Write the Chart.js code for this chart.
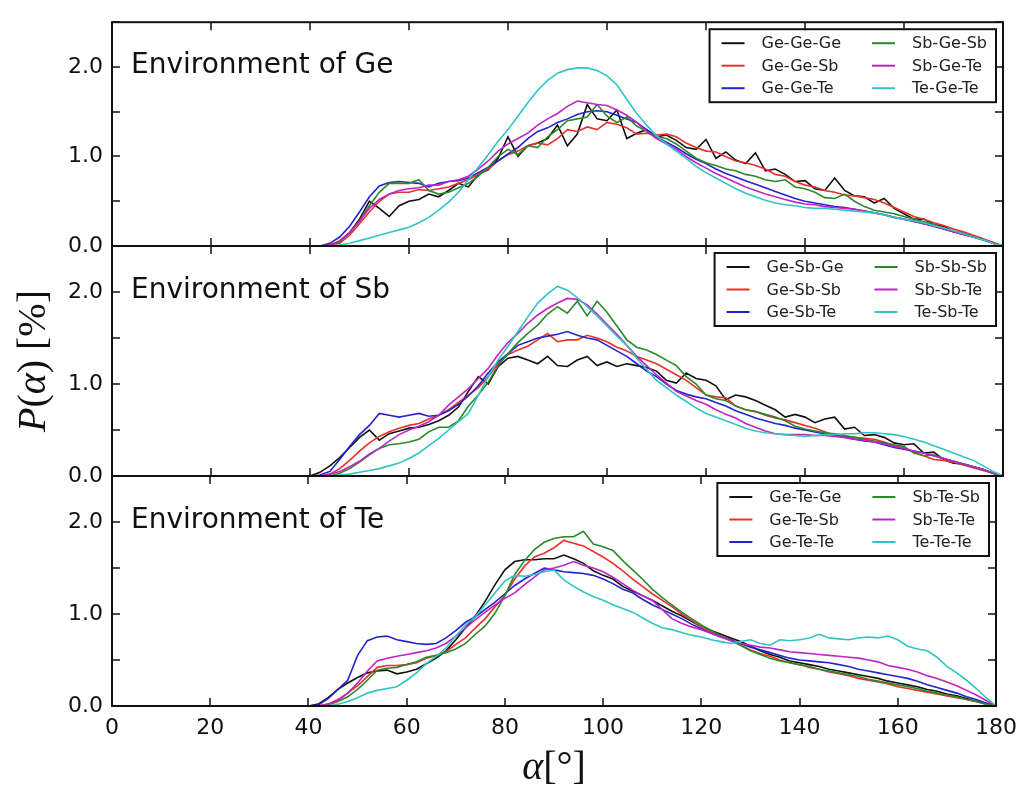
<!DOCTYPE html>
<html>
<head>
<meta charset="utf-8">
<title>Bond angle distributions</title>
<script src="https://cdn.jsdelivr.net/npm/chart.js@4.4.1/dist/chart.umd.min.js"></script>
<style>
  html, body { margin: 0; padding: 0; background: #fff; }
  #wrap { position: relative; width: 1026px; height: 790px; }
  #wrap canvas { position: absolute; left: 0; top: 0; }
</style>
</head>
<body>
<div id="wrap">
  <canvas id="geChart" width="1026" height="790"></canvas>
  <canvas id="sbChart" width="1026" height="790"></canvas>
  <canvas id="teChart" width="1026" height="790"></canvas>
</div>
<script>
// bond angle alpha in degrees (0, then 40..180 every 2)
const angles = [0,
  40, 42, 44, 46, 48, 50, 52, 54, 56, 58,
  60, 62, 64, 66, 68, 70, 72, 74, 76, 78,
  80, 82, 84, 86, 88, 90, 92, 94, 96, 98,
  100, 102, 104, 106, 108, 110, 112, 114, 116, 118,
  120, 122, 124, 126, 128, 130, 132, 134, 136, 138,
  140, 142, 144, 146, 148, 150, 152, 154, 156, 158,
  160, 162, 164, 166, 168, 170, 172, 174, 176, 178,
  180];

const xTicks = [0, 20, 40, 60, 80, 100, 120, 140, 160, 180];
const yTicks = [0, 0.5, 1.0, 1.5, 2.0, 2.5];

const lineColors = ['#111111', '#e8302c', '#2424cc', '#2a8a2a', '#c024c4', '#30c4c4'];

// ---- Environment of Ge ----
const geLabels = ['Ge-Ge-Ge', 'Ge-Ge-Sb', 'Ge-Ge-Te', 'Sb-Ge-Sb', 'Sb-Ge-Te', 'Te-Ge-Te'];
const geGeGe = [0,
  0, 0, 0.01, 0.05, 0.15, 0.30, 0.50, 0.42, 0.33, 0.45,
  0.50, 0.52, 0.58, 0.55, 0.62, 0.70, 0.66, 0.80, 0.85, 0.98,
  1.22, 1.00, 1.12, 1.15, 1.20, 1.35, 1.12, 1.25, 1.58, 1.42,
  1.40, 1.52, 1.20, 1.26, 1.30, 1.22, 1.24, 1.18, 1.10, 1.08,
  1.19, 0.98, 1.05, 0.96, 0.92, 1.04, 0.84, 0.86, 0.80, 0.72,
  0.73, 0.64, 0.62, 0.76, 0.62, 0.56, 0.55, 0.48, 0.53, 0.42,
  0.36, 0.30, 0.30, 0.24, 0.22, 0.16, 0.15, 0.10, 0.07, 0.04,
  0];
const geGeSb = [0,
  0, 0, 0, 0.03, 0.12, 0.25, 0.38, 0.50, 0.58, 0.60,
  0.60, 0.63, 0.62, 0.64, 0.66, 0.70, 0.74, 0.80, 0.86, 0.95,
  1.02, 1.06, 1.12, 1.15, 1.13, 1.20, 1.30, 1.28, 1.33, 1.30,
  1.38, 1.36, 1.32, 1.25, 1.26, 1.24, 1.25, 1.22, 1.15, 1.10,
  1.06, 1.05, 1.00, 0.95, 0.93, 0.90, 0.86, 0.80, 0.78, 0.72,
  0.68, 0.66, 0.62, 0.60, 0.57, 0.56, 0.54, 0.52, 0.48, 0.43,
  0.38, 0.33, 0.30, 0.26, 0.23, 0.19, 0.16, 0.12, 0.08, 0.04,
  0];
const geGeTe = [0,
  0, 0, 0.03, 0.10, 0.22, 0.38, 0.55, 0.67, 0.71, 0.72,
  0.71, 0.70, 0.66, 0.70, 0.72, 0.73, 0.76, 0.82, 0.88, 0.95,
  1.03, 1.10, 1.20, 1.28, 1.32, 1.38, 1.42, 1.47, 1.50, 1.51,
  1.50, 1.46, 1.42, 1.38, 1.30, 1.22, 1.16, 1.10, 1.03, 0.97,
  0.92, 0.86, 0.81, 0.77, 0.73, 0.69, 0.65, 0.61, 0.57, 0.53,
  0.50, 0.48, 0.46, 0.44, 0.43, 0.41, 0.39, 0.37, 0.35, 0.32,
  0.30, 0.28, 0.25, 0.22, 0.19, 0.16, 0.13, 0.10, 0.07, 0.03,
  0];
const sbGeSb = [0,
  0, 0, 0.01, 0.05, 0.15, 0.28, 0.45, 0.60, 0.70, 0.70,
  0.70, 0.74, 0.62, 0.58, 0.60, 0.65, 0.70, 0.78, 0.88, 1.00,
  1.08, 1.02, 1.12, 1.10, 1.22, 1.30, 1.40, 1.42, 1.44, 1.58,
  1.45, 1.38, 1.44, 1.34, 1.28, 1.22, 1.20, 1.14, 1.06, 0.98,
  0.93, 0.90, 0.86, 0.84, 0.80, 0.78, 0.74, 0.72, 0.74, 0.66,
  0.64, 0.60, 0.54, 0.53, 0.58, 0.50, 0.44, 0.40, 0.38, 0.36,
  0.33, 0.30, 0.27, 0.24, 0.20, 0.17, 0.14, 0.10, 0.07, 0.03,
  0];
const sbGeTe = [0,
  0, 0, 0.01, 0.06, 0.15, 0.28, 0.42, 0.52, 0.58, 0.62,
  0.64, 0.65, 0.68, 0.68, 0.72, 0.74, 0.78, 0.86, 0.95, 1.06,
  1.14, 1.20, 1.26, 1.35, 1.42, 1.48, 1.56, 1.62, 1.60, 1.58,
  1.57, 1.52, 1.46, 1.38, 1.28, 1.20, 1.14, 1.08, 1.00, 0.93,
  0.87, 0.81, 0.76, 0.71, 0.66, 0.62, 0.58, 0.55, 0.52, 0.49,
  0.47, 0.46, 0.44, 0.43, 0.42, 0.41, 0.39, 0.37, 0.35, 0.32,
  0.30, 0.27, 0.25, 0.22, 0.19, 0.16, 0.13, 0.10, 0.07, 0.03,
  0];
const teGeTe = [0,
  0, 0, 0, 0.01, 0.03, 0.06, 0.09, 0.12, 0.15, 0.18,
  0.21, 0.26, 0.32, 0.40, 0.49, 0.60, 0.74, 0.88, 1.02, 1.17,
  1.30, 1.45, 1.60, 1.74, 1.85, 1.93, 1.97, 1.99, 1.99, 1.96,
  1.90, 1.80, 1.64, 1.48, 1.35, 1.23, 1.14, 1.06, 0.98, 0.89,
  0.82, 0.76, 0.70, 0.64, 0.59, 0.55, 0.51, 0.48, 0.46, 0.45,
  0.43, 0.42, 0.42, 0.41, 0.40, 0.39, 0.38, 0.37, 0.35, 0.32,
  0.30, 0.28, 0.26, 0.23, 0.20, 0.17, 0.14, 0.10, 0.07, 0.03,
  0];

// ---- Environment of Sb ----
const sbLabels = ['Ge-Sb-Ge', 'Ge-Sb-Sb', 'Ge-Sb-Te', 'Sb-Sb-Sb', 'Sb-Sb-Te', 'Te-Sb-Te'];
const geSbGe = [0,
  0, 0.04, 0.11, 0.20, 0.31, 0.42, 0.50, 0.39, 0.46, 0.49,
  0.52, 0.53, 0.56, 0.60, 0.66, 0.75, 0.92, 1.08, 1.00, 1.19,
  1.28, 1.30, 1.26, 1.22, 1.30, 1.20, 1.19, 1.26, 1.30, 1.20,
  1.24, 1.19, 1.22, 1.20, 1.18, 1.14, 1.04, 1.01, 1.12, 1.06,
  1.04, 0.98, 0.83, 0.88, 0.86, 0.82, 0.77, 0.72, 0.64, 0.67,
  0.64, 0.58, 0.62, 0.64, 0.51, 0.53, 0.44, 0.45, 0.42, 0.36,
  0.34, 0.35, 0.25, 0.26, 0.18, 0.14, 0.13, 0.10, 0.07, 0.03,
  0];
const geSbSb = [0,
  0, 0, 0.02, 0.08, 0.17, 0.27, 0.36, 0.43, 0.48, 0.52,
  0.55, 0.57, 0.62, 0.66, 0.72, 0.80, 0.88, 0.96, 1.08, 1.22,
  1.32, 1.37, 1.41, 1.48, 1.55, 1.46, 1.48, 1.48, 1.53, 1.50,
  1.46, 1.40, 1.36, 1.30, 1.26, 1.22, 1.16, 1.10, 1.04, 0.96,
  0.88, 0.86, 0.85, 0.76, 0.72, 0.70, 0.66, 0.63, 0.61, 0.58,
  0.55, 0.52, 0.48, 0.44, 0.43, 0.42, 0.41, 0.40, 0.37, 0.33,
  0.30, 0.26, 0.22, 0.18, 0.17, 0.15, 0.12, 0.09, 0.06, 0.03,
  0];
const geSbTe = [0,
  0, 0.01, 0.05, 0.18, 0.32, 0.45, 0.55, 0.68, 0.66, 0.64,
  0.66, 0.68, 0.65, 0.66, 0.71, 0.78, 0.87, 0.98, 1.12, 1.24,
  1.33, 1.42, 1.46, 1.50, 1.52, 1.54, 1.57, 1.53, 1.50, 1.48,
  1.42, 1.36, 1.30, 1.22, 1.14, 1.08, 1.00, 0.93, 0.89, 0.86,
  0.84, 0.80, 0.76, 0.71, 0.67, 0.63, 0.60, 0.57, 0.55, 0.52,
  0.50, 0.48, 0.46, 0.44, 0.42, 0.40, 0.38, 0.37, 0.34, 0.31,
  0.29, 0.27, 0.25, 0.22, 0.19, 0.16, 0.13, 0.10, 0.07, 0.03,
  0];
const sbSbSb = [0,
  0, 0, 0, 0.03, 0.08, 0.15, 0.23, 0.30, 0.34, 0.35,
  0.37, 0.40, 0.48, 0.53, 0.53, 0.60, 0.76, 0.88, 1.02, 1.20,
  1.33, 1.45, 1.55, 1.64, 1.76, 1.84, 1.77, 1.90, 1.74, 1.90,
  1.78, 1.63, 1.48, 1.40, 1.37, 1.32, 1.26, 1.20, 1.08, 1.00,
  0.88, 0.84, 0.82, 0.76, 0.72, 0.70, 0.67, 0.64, 0.60, 0.54,
  0.51, 0.49, 0.47, 0.46, 0.44, 0.42, 0.40, 0.38, 0.36, 0.34,
  0.32, 0.25, 0.22, 0.23, 0.19, 0.16, 0.13, 0.10, 0.07, 0.03,
  0];
const sbSbTe = [0,
  0, 0, 0.02, 0.05, 0.10, 0.16, 0.24, 0.30, 0.38, 0.45,
  0.50, 0.54, 0.59, 0.66, 0.77, 0.86, 0.95, 1.06, 1.17, 1.32,
  1.45, 1.55, 1.66, 1.75, 1.82, 1.88, 1.93, 1.92, 1.86, 1.76,
  1.65, 1.54, 1.42, 1.30, 1.20, 1.10, 1.01, 0.92, 0.87, 0.82,
  0.78, 0.72, 0.67, 0.63, 0.57, 0.53, 0.49, 0.46, 0.45, 0.45,
  0.45, 0.44, 0.44, 0.43, 0.42, 0.40, 0.39, 0.37, 0.35, 0.32,
  0.30, 0.27, 0.25, 0.22, 0.19, 0.16, 0.13, 0.10, 0.07, 0.03,
  0];
const teSbTe = [0,
  0, 0, 0, 0.01, 0.02, 0.04, 0.06, 0.08, 0.11, 0.14,
  0.19, 0.25, 0.33, 0.41, 0.50, 0.59, 0.68, 0.88, 1.08, 1.26,
  1.41, 1.57, 1.73, 1.88, 1.98, 2.06, 2.02, 1.94, 1.84, 1.74,
  1.63, 1.52, 1.42, 1.28, 1.16, 1.04, 0.96, 0.88, 0.81, 0.74,
  0.68, 0.64, 0.60, 0.56, 0.52, 0.49, 0.47, 0.46, 0.45, 0.44,
  0.43, 0.44, 0.45, 0.45, 0.46, 0.46, 0.47, 0.47, 0.46, 0.45,
  0.43, 0.40, 0.37, 0.33, 0.29, 0.25, 0.21, 0.17, 0.11, 0.05,
  0];

// ---- Environment of Te ----
const teLabels = ['Ge-Te-Ge', 'Ge-Te-Sb', 'Ge-Te-Te', 'Sb-Te-Sb', 'Sb-Te-Te', 'Te-Te-Te'];
const geTeGe = [0,
  0, 0.02, 0.09, 0.18, 0.25, 0.31, 0.36, 0.38, 0.39, 0.35,
  0.37, 0.40, 0.46, 0.52, 0.60, 0.72, 0.85, 0.98, 1.14, 1.32,
  1.48, 1.57, 1.59, 1.59, 1.60, 1.60, 1.64, 1.60, 1.55, 1.47,
  1.42, 1.38, 1.30, 1.25, 1.20, 1.15, 1.09, 1.03, 0.98, 0.92,
  0.86, 0.82, 0.78, 0.74, 0.70, 0.65, 0.60, 0.56, 0.53, 0.49,
  0.47, 0.45, 0.43, 0.40, 0.38, 0.36, 0.34, 0.32, 0.30, 0.27,
  0.25, 0.23, 0.21, 0.18, 0.16, 0.13, 0.11, 0.08, 0.05, 0.03,
  0];
const geTeSb = [0,
  0, 0, 0.02, 0.07, 0.14, 0.22, 0.32, 0.42, 0.44, 0.44,
  0.45, 0.47, 0.52, 0.55, 0.59, 0.67, 0.74, 0.85, 0.95, 1.08,
  1.20, 1.38, 1.52, 1.62, 1.66, 1.72, 1.80, 1.77, 1.74, 1.68,
  1.62, 1.55, 1.47, 1.38, 1.30, 1.22, 1.15, 1.08, 1.00, 0.93,
  0.86, 0.81, 0.76, 0.72, 0.66, 0.61, 0.57, 0.54, 0.50, 0.47,
  0.45, 0.42, 0.40, 0.37, 0.35, 0.33, 0.30, 0.28, 0.26, 0.24,
  0.21, 0.19, 0.17, 0.15, 0.13, 0.11, 0.09, 0.07, 0.05, 0.02,
  0];
const geTeTe = [0,
  0, 0.01, 0.08, 0.18, 0.28, 0.55, 0.71, 0.75, 0.76, 0.72,
  0.70, 0.68, 0.67, 0.68, 0.74, 0.82, 0.91, 0.97, 1.05, 1.13,
  1.22, 1.31, 1.38, 1.44, 1.50, 1.48, 1.46, 1.45, 1.44, 1.42,
  1.38, 1.33, 1.27, 1.23, 1.16, 1.10, 1.05, 1.00, 0.95, 0.89,
  0.84, 0.79, 0.75, 0.72, 0.68, 0.64, 0.61, 0.58, 0.55, 0.52,
  0.50, 0.49, 0.48, 0.47, 0.45, 0.43, 0.40, 0.38, 0.36, 0.34,
  0.32, 0.30, 0.27, 0.23, 0.20, 0.17, 0.14, 0.10, 0.07, 0.03,
  0];
const sbTeSb = [0,
  0, 0, 0.01, 0.05, 0.10, 0.18, 0.28, 0.39, 0.41, 0.42,
  0.45, 0.48, 0.53, 0.55, 0.58, 0.62, 0.68, 0.78, 0.87, 1.01,
  1.20, 1.43, 1.58, 1.70, 1.78, 1.82, 1.84, 1.84, 1.90, 1.76,
  1.73, 1.69, 1.58, 1.48, 1.38, 1.27, 1.18, 1.10, 1.02, 0.95,
  0.88, 0.82, 0.76, 0.71, 0.66, 0.60, 0.56, 0.52, 0.49, 0.47,
  0.45, 0.43, 0.40, 0.38, 0.36, 0.34, 0.32, 0.29, 0.27, 0.25,
  0.23, 0.21, 0.19, 0.16, 0.14, 0.12, 0.10, 0.07, 0.05, 0.02,
  0];
const sbTeTe = [0,
  0, 0, 0.02, 0.06, 0.14, 0.25, 0.38, 0.49, 0.52, 0.54,
  0.56, 0.58, 0.60, 0.63, 0.68, 0.76, 0.85, 0.94, 1.02, 1.10,
  1.17, 1.23, 1.32, 1.40, 1.48, 1.50, 1.53, 1.57, 1.53, 1.50,
  1.46, 1.40, 1.33, 1.26, 1.20, 1.15, 1.05, 0.95, 0.90, 0.86,
  0.83, 0.79, 0.75, 0.71, 0.68, 0.66, 0.64, 0.63, 0.61, 0.59,
  0.58, 0.57, 0.56, 0.55, 0.54, 0.53, 0.52, 0.50, 0.48, 0.44,
  0.42, 0.40, 0.37, 0.33, 0.30, 0.26, 0.22, 0.17, 0.12, 0.06,
  0];
const teTeTe = [0,
  0, 0, 0, 0.02, 0.05, 0.09, 0.14, 0.17, 0.19, 0.21,
  0.28, 0.36, 0.46, 0.54, 0.63, 0.76, 0.88, 0.97, 1.10, 1.23,
  1.36, 1.42, 1.41, 1.43, 1.46, 1.48, 1.37, 1.30, 1.24, 1.19,
  1.15, 1.10, 1.06, 1.02, 0.96, 0.90, 0.85, 0.83, 0.80, 0.77,
  0.75, 0.72, 0.70, 0.68, 0.70, 0.72, 0.68, 0.66, 0.72, 0.71,
  0.72, 0.74, 0.78, 0.74, 0.73, 0.72, 0.74, 0.75, 0.74, 0.76,
  0.72, 0.65, 0.62, 0.60, 0.53, 0.43, 0.36, 0.28, 0.19, 0.09,
  0];

const yTitleParts = [['P', 'italic '], ['(', ''], ['\u03b1', 'italic '], [')', ''], [' [%]', '']];
const xTitleParts = [['\u03b1', 'italic '], ['[\u00b0]', '']];

function drawParts(ctx, parts, cx, cy, size) {
  const widths = parts.map(p => { ctx.font = p[1] + size + 'px "Liberation Serif"'; return ctx.measureText(p[0]).width; });
  let x = cx - widths.reduce((s, w) => s + w, 0) / 2;
  ctx.textAlign = 'left';
  ctx.textBaseline = 'middle';
  ctx.fillStyle = '#111';
  parts.forEach((p, i) => {
    ctx.font = p[1] + size + 'px "Liberation Serif"';
    ctx.fillText(p[0], x, cy);
    x += widths[i];
  });
}

// frame, inward ticks, panel title, legend box and axis titles
const panelDeco = {
  id: 'panelDeco',
  afterDatasetsDraw(chart, args, opts) {
    const ctx = chart.ctx;
    const a = chart.chartArea;
    const xs = chart.scales.x, ys = chart.scales.y;
    ctx.save();

    // panel title
    ctx.font = '28px "DejaVu Sans"';
    ctx.fillStyle = '#111';
    ctx.textAlign = 'left';
    ctx.textBaseline = 'middle';
    ctx.fillText(opts.title, a.left + 19, ys.getPixelForValue(2.0) - 1);

    // legend
    const ds = chart.data.datasets;
    ctx.font = '16px "DejaVu Sans"';
    const w1 = Math.max(...ds.slice(0, 3).map(d => ctx.measureText(d.label).width));
    const w2 = Math.max(...ds.slice(3, 6).map(d => ctx.measureText(d.label).width));
    const padL = 12, lineLen = 23, gap = 17, colGap = 31, padR = 9;
    const boxW = padL + lineLen + gap + w1 + colGap + lineLen + gap + w2 + padR;
    const boxH = 73;
    const bx = a.right - 7 - boxW, by = a.top + 7;
    ctx.fillStyle = '#fff';
    ctx.fillRect(bx, by, boxW, boxH);
    ctx.strokeStyle = '#111';
    ctx.lineWidth = 2;
    ctx.strokeRect(bx, by, boxW, boxH);
    ds.forEach((d, i) => {
      const col = i < 3 ? 0 : 1, row = i % 3;
      const lx = bx + padL + (col ? lineLen + gap + w1 + colGap : 0);
      const ly = by + 14 + row * 22.5;
      ctx.strokeStyle = d.borderColor;
      ctx.lineWidth = 2;
      ctx.beginPath();
      ctx.moveTo(lx, ly);
      ctx.lineTo(lx + lineLen, ly);
      ctx.stroke();
      ctx.fillStyle = '#222';
      ctx.fillText(d.label, lx + lineLen + gap, ly + 1);
    });

    // frame
    ctx.strokeStyle = '#111';
    ctx.lineWidth = 2;
    ctx.strokeRect(a.left, a.top, a.right - a.left, a.bottom - a.top);

    // inward ticks on all four sides
    ctx.lineWidth = 1.5;
    ctx.beginPath();
    xTicks.forEach(v => {
      const px = Math.round(xs.getPixelForValue(v));
      ctx.moveTo(px, a.bottom); ctx.lineTo(px, a.bottom - 8);
      ctx.moveTo(px, a.top); ctx.lineTo(px, a.top + 8);
    });
    yTicks.forEach(v => {
      const py = Math.round(ys.getPixelForValue(v));
      ctx.moveTo(a.left, py); ctx.lineTo(a.left + 8, py);
      ctx.moveTo(a.right, py); ctx.lineTo(a.right - 8, py);
    });
    ctx.stroke();

    if (opts.yTitle) {
      ctx.save();
      ctx.translate(34, (a.top + a.bottom) / 2);
      ctx.rotate(-Math.PI / 2);
      drawParts(ctx, yTitleParts, 0, 0, 40);
      ctx.restore();
    }
    if (opts.xTitle) {
      drawParts(ctx, xTitleParts, (a.left + a.right) / 2, 768, 40);
    }
    ctx.restore();
  }
};

function makeDatasets(labels, series) {
  return series.map((vals, i) => ({
    label: labels[i],
    data: vals.map((v, k) => ({ x: angles[k], y: v })),
    borderColor: lineColors[i],
    borderWidth: 1.6,
    pointRadius: 0,
    fill: false,
    tension: 0,
    order: 5 - i
  }));
}

const tickFont = { family: 'DejaVu Sans', size: 22 };

function makeChart(id, labels, series, title, padTop, padBottom, extra) {
  const bottom = !!extra.bottom;
  return new Chart(document.getElementById(id), {
    type: 'line',
    data: { datasets: makeDatasets(labels, series) },
    options: {
      responsive: false,
      animation: false,
      events: [],
      layout: { padding: { left: 0, right: 23, top: padTop, bottom: padBottom } },
      plugins: {
        legend: { display: false },
        tooltip: { enabled: false },
        panelDeco: { title: title, yTitle: !!extra.yTitle, xTitle: bottom }
      },
      scales: {
        x: {
          type: 'linear', min: 0, max: 180,
          ticks: { display: bottom, stepSize: 20, padding: 9, color: '#111', font: tickFont,
                   maxRotation: 0, autoSkip: false, callback: v => String(v) },
          grid: { display: false, drawTicks: false },
          border: { display: false },
          afterFit: s => { s.height = bottom ? 84 : 0; }
        },
        y: {
          min: 0, max: 2.5,
          ticks: { stepSize: 0.5, padding: 9, color: '#111', font: tickFont,
                   callback: v => (yTicks.includes(v) && Number.isInteger(v)) ? v.toFixed(1) : '' },
          grid: { display: false, drawTicks: false },
          border: { display: false },
          afterFit: s => { s.width = 112; }
        }
      }
    },
    plugins: [panelDeco]
  });
}

makeChart('geChart', geLabels, [geGeGe, geGeSb, geGeTe, sbGeSb, sbGeTe, teGeTe],
  'Environment of Ge', 16, 544, {});
makeChart('sbChart', sbLabels, [geSbGe, geSbSb, geSbTe, sbSbSb, sbSbTe, teSbTe],
  'Environment of Sb', 246, 314, { yTitle: true });
makeChart('teChart', teLabels, [geTeGe, geTeSb, geTeTe, sbTeSb, sbTeTe, teTeTe],
  'Environment of Te', 476, 0, { bottom: true });
</script>
</body>
</html>
